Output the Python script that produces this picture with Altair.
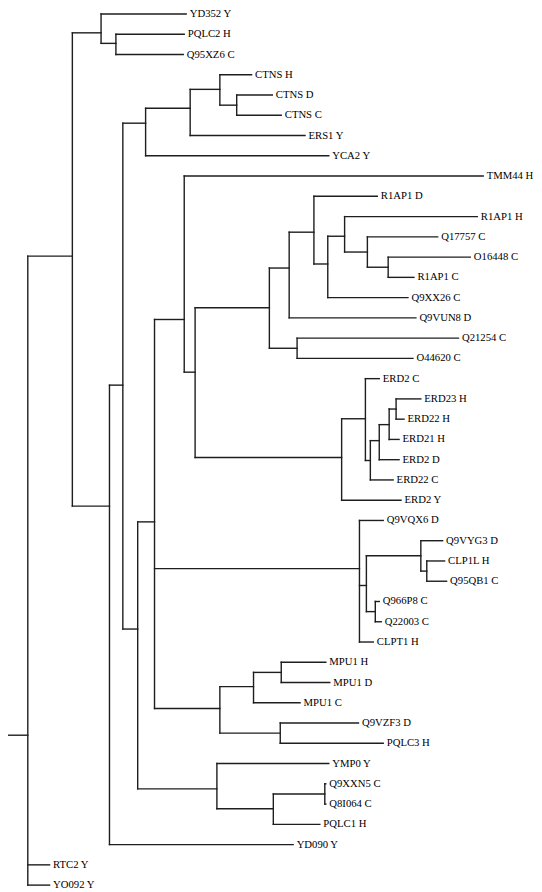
import altair as alt
import pandas as pd

# ---- leaves (top to bottom), their parent node and tip position ----
LEAF_NAMES = [
    "YD352 Y", "PQLC2 H", "Q95XZ6 C", "CTNS H", "CTNS D", "CTNS C", "ERS1 Y", "YCA2 Y",
    "TMM44 H", "R1AP1 D", "R1AP1 H", "Q17757 C", "O16448 C", "R1AP1 C", "Q9XX26 C",
    "Q9VUN8 D", "Q21254 C", "O44620 C", "ERD2 C", "ERD23 H", "ERD22 H", "ERD21 H",
    "ERD2 D", "ERD22 C", "ERD2 Y", "Q9VQX6 D", "Q9VYG3 D", "CLP1L H", "Q95QB1 C",
    "Q966P8 C", "Q22003 C", "CLPT1 H", "MPU1 H", "MPU1 D", "MPU1 C", "Q9VZF3 D",
    "PQLC3 H", "YMP0 Y", "Q9XXN5 C", "Q8I064 C", "PQLC1 H", "YD090 Y", "RTC2 Y", "YO092 Y",
]
LEAF_PARENT = [
    "B", "B2", "B2", "F", "G", "G", "E", "D",
    "L", "P", "R", "S", "T", "T", "Q",
    "O", "U", "U", "W", "AA", "AA", "Z",
    "Y", "X", "V", "BB", "DD", "FF", "FF",
    "EE", "EE", "BB", "II", "II", "HH", "JJ",
    "JJ", "KK", "MM", "MM", "LL", "H", "ROOT", "ROOT",
]
LEAF_X = [
    188, 186, 185, 254, 275, 284, 308, 332,
    488, 381, 482, 442, 475, 418, 412,
    420, 463, 417, 383, 425, 408, 403,
    403, 397, 405, 387, 447, 449, 451,
    383, 385, 377, 329, 333, 303, 362,
    387, 332, 329, 329, 323, 296, 50, 50,
]

# ---- internal nodes: parent, depth (x) and row position (y) ----
NODE_IDS = ["ROOT", "A", "B", "B2", "H", "C", "D", "E", "F", "G", "J", "K", "L", "M",
            "N", "O", "P", "Q", "R", "S", "T", "U", "V", "W", "X", "Y", "Z", "AA",
            "BB", "CC", "DD", "FF", "EE", "GG", "HH", "II", "JJ", "KK", "LL", "MM"]
NODE_PARENT = [None, "ROOT", "A", "B", "A", "H", "C", "D", "E", "F", "C", "J", "K", "L",
               "M", "N", "O", "P", "Q", "R", "S", "N", "M", "V", "W", "X", "Y", "Z",
               "K", "BB", "CC", "DD", "CC", "K", "GG", "HH", "GG", "J", "KK", "LL"]
NODE_X = [28, 73, 102, 117, 110.5, 124, 147, 192, 222, 239, 139, 156, 186, 197,
          272, 292, 317, 331, 348, 371, 392, 300, 345, 369, 374, 383, 393, 400,
          363, 370, 425, 431, 379, 222, 256, 284, 283, 219, 276, 328]
NODE_Y = [35.60, 11.95, 0.93, 1.45, 24.29, 18.32, 5.39, 4.65, 3.72, 4.5, 30.36, 25.07,
          15.08, 17.68, 14.50, 12.54, 10.77, 12.34, 10.97, 11.75, 12.5, 16.5, 21.89,
          19.98, 22.04, 21.06, 20.27, 19.5, 27.38, 28.21, 26.74, 27.5, 29.5, 34.28,
          33.20, 32.5, 35.5, 38.25, 39.23, 38.5]
ROOT_BASE_X = 3

# ---- build branch segments from the tree ----
xpos, ypos = {}, {}
for n, x, y in zip(NODE_IDS, NODE_X, NODE_Y):
    xpos[n], ypos[n] = x, y
children = {n: [] for n in NODE_IDS}
for i, (name, p, x) in enumerate(zip(LEAF_NAMES, LEAF_PARENT, LEAF_X)):
    key = "leaf:" + name
    xpos[key], ypos[key] = x, i
    children[p].append(key)
for n, p in zip(NODE_IDS, NODE_PARENT):
    if p is not None:
        children[p].append(n)

segs = []
segs.append(dict(x=ROOT_BASE_X, x2=xpos["ROOT"], y=ypos["ROOT"], y2=ypos["ROOT"]))
for parent, kids in children.items():
    ys = [ypos[k] for k in kids]
    segs.append(dict(x=xpos[parent], x2=xpos[parent], y=min(ys), y2=max(ys)))
    for k in kids:
        segs.append(dict(x=xpos[parent], x2=xpos[k], y=ypos[k], y2=ypos[k]))
seg_df = pd.DataFrame(segs)

labels_df = pd.DataFrame({"name": LEAF_NAMES, "x": LEAF_X, "y": list(range(len(LEAF_NAMES)))})

xscale = alt.Scale(domain=[8, 539.3], nice=False, zero=False)
yscale = alt.Scale(domain=[-0.296, 43.34], nice=False, zero=False, reverse=True)

branches = alt.Chart(seg_df).mark_rule(color="#1e1e1e", strokeWidth=1.4, strokeCap="square").encode(
    x=alt.X("x:Q", scale=xscale, axis=None),
    x2="x2:Q",
    y=alt.Y("y:Q", scale=yscale, axis=None),
    y2="y2:Q",
)

labels = alt.Chart(labels_df).mark_text(
    align="left", baseline="middle", dx=3.5, font="Liberation Serif", fontSize=10.7, color="#000000"
).encode(
    x=alt.X("x:Q", scale=xscale, axis=None),
    y=alt.Y("y:Q", scale=yscale, axis=None),
    text="name:N",
)

chart = (branches + labels).properties(
    width=526, height=884, autosize=alt.AutoSizeParams(type="none"), padding=0
).configure_view(stroke=None)

chart.save("out.html", embed_options={"renderer": "svg", "actions": False})
